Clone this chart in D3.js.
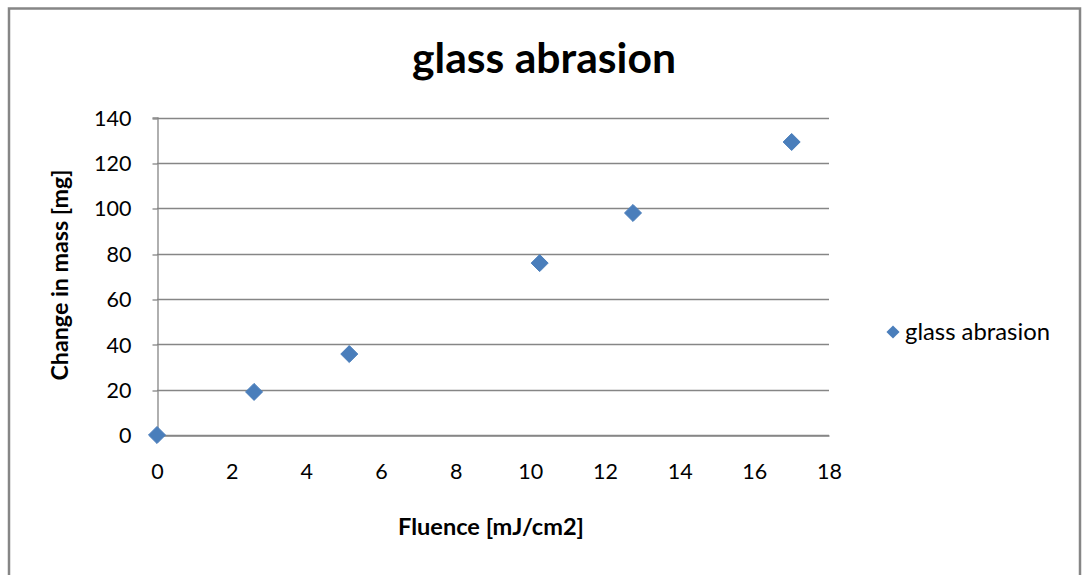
<!DOCTYPE html>
<html>
<head>
<meta charset="utf-8">
<script src="https://cdn.jsdelivr.net/npm/d3@7"></script>
<style>
  html, body { margin: 0; padding: 0; background: #fff; }
  svg { display: block; }
  text { font-family: Lato, "Open Sans", sans-serif; fill: #000; }
</style>
</head>
<body>
<script>
// Measured abrasion data
const fluence = [0, 2.6, 5.15, 10.25, 12.75, 17.0];   // mJ/cm2
const massChange = [0, 19, 35.7, 75.8, 97.9, 129.2];   // mg
const xTicks = [0, 2, 4, 6, 8, 10, 12, 14, 16, 18];
const yTicks = [0, 20, 40, 60, 80, 100, 120, 140];
const seriesName = "glass abrasion";
const chartTitle = "glass abrasion";
const xTitle = "Fluence [mJ/cm2]";
const yTitle = "Change in mass [mg]";

const W = 1082, H = 575;
const plot = { left: 157, right: 829, top: 117.5, bottom: 435 };
const gridColor = "#868686";
const markColor = "#4a7ebb";

const svg = d3.select("body").append("svg").attr("width", W).attr("height", H);

// Chart frame
svg.append("rect")
  .attr("x", 9).attr("y", 8.5).attr("width", 1071).attr("height", 575)
  .attr("fill", "#fff").attr("stroke", gridColor).attr("stroke-width", 2.5);

const x = d3.scaleLinear().domain([0, 18]).range([plot.left, plot.right]);
const y = d3.scaleLinear().domain([0, 140]).range([plot.bottom, plot.top]);

// Shrink/grow a text element's font so it spans the given width
function fitWidth(sel, width) {
  sel.each(function () {
    const t = d3.select(this);
    let fs = parseFloat(t.attr("font-size"));
    const w = this.getComputedTextLength();
    if (w > 0) t.attr("font-size", (fs * width / w).toFixed(2));
  });
}

// Horizontal gridlines
svg.append("g")
  .selectAll("line").data(yTicks).join("line")
  .attr("x1", plot.left).attr("x2", plot.right)
  .attr("y1", d => Math.round(y(d)) + 0.5).attr("y2", d => Math.round(y(d)) + 0.5)
  .attr("stroke", gridColor).attr("stroke-width", 1.3);

// Y axis with outside ticks
const yAxis = svg.append("g")
  .attr("transform", `translate(${plot.left + 0.5},0)`)
  .call(d3.axisLeft(y).tickValues(yTicks).tickSize(5).tickPadding(21).tickFormat(d3.format("d")));
yAxis.select(".domain").attr("stroke", gridColor).attr("stroke-width", 1.3);
yAxis.selectAll(".tick line").attr("stroke", gridColor).attr("stroke-width", 1.3)
  .attr("transform", d => `translate(0,${Math.round(y(d)) + 0.5 - y(d)})`);
yAxis.selectAll(".tick text")
  .attr("font-size", 21.5).attr("font-family", "Lato, sans-serif").attr("fill", "#000")
  .attr("dy", "0.36em");

// X axis without tick marks
const xAxis = svg.append("g")
  .attr("transform", `translate(0,${Math.round(plot.bottom) + 0.5})`)
  .call(d3.axisBottom(x).tickValues(xTicks).tickSize(0).tickPadding(28).tickFormat(d3.format("d")));
xAxis.select(".domain").attr("stroke", gridColor).attr("stroke-width", 1.3);
xAxis.selectAll(".tick text")
  .attr("font-size", 21.5).attr("font-family", "Lato, sans-serif").attr("fill", "#000");

// Diamond markers
const diamond = d3.symbol().type(d3.symbolDiamond2).size(185);
svg.append("g")
  .selectAll("path").data(fluence.map((f, i) => ({ f, m: massChange[i] }))).join("path")
  .attr("d", diamond)
  .attr("transform", d => `translate(${x(d.f)},${y(d.m)})`)
  .attr("fill", markColor)
  .attr("stroke", markColor).attr("stroke-width", 1).attr("stroke-linejoin", "round");

// Title
svg.append("text")
  .attr("x", 544).attr("y", 73)
  .attr("text-anchor", "middle")
  .attr("font-size", 32).attr("font-weight", "bold")
  .text(chartTitle)
  .call(fitWidth, 264);

// Axis titles
svg.append("text")
  .attr("x", 491).attr("y", 535)
  .attr("text-anchor", "middle")
  .attr("font-size", 21).attr("font-weight", "bold")
  .text(xTitle)
  .call(fitWidth, 186);

svg.append("text")
  .attr("transform", "translate(68,275) rotate(-90)")
  .attr("text-anchor", "middle")
  .attr("font-size", 21).attr("font-weight", "bold")
  .text(yTitle)
  .call(fitWidth, 211);

// Legend
const legend = svg.append("g").attr("transform", "translate(893,332)");
legend.append("path").attr("d", d3.symbol().type(d3.symbolDiamond2).size(110)).attr("fill", markColor);
legend.append("text")
  .attr("x", 12).attr("y", 0).attr("dy", "0.35em")
  .attr("font-size", 21)
  .text(seriesName)
  .call(fitWidth, 145);
</script>
</body>
</html>
